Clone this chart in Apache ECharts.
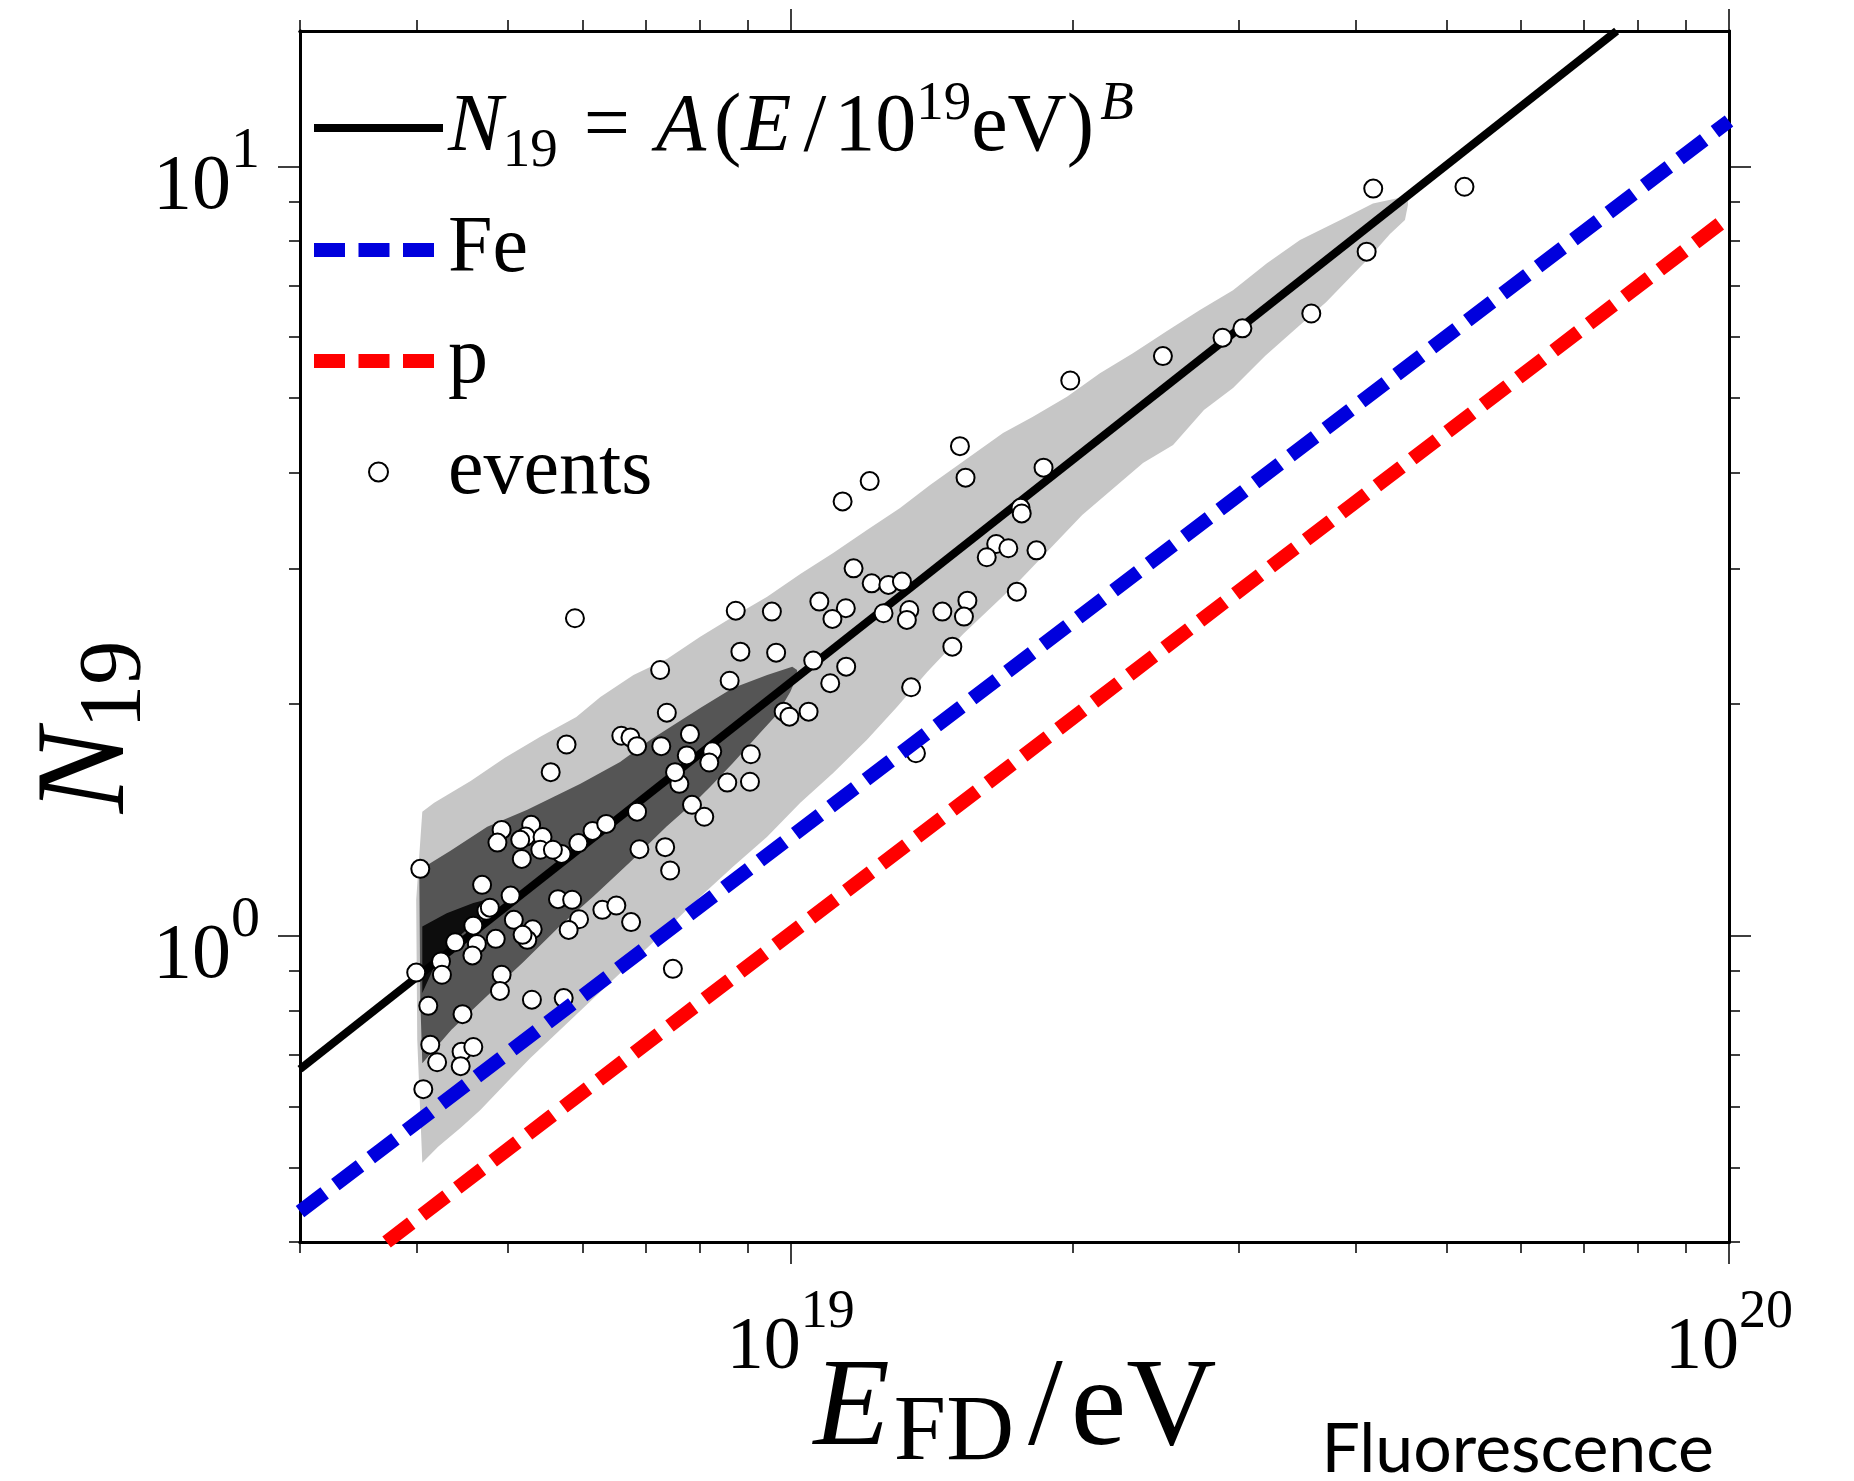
<!DOCTYPE html>
<html>
<head>
<meta charset="utf-8">
<script src="https://cdn.jsdelivr.net/npm/echarts@6/dist/echarts.min.js"></script>
<style>
  html, body { margin: 0; padding: 0; background: #ffffff; }
  #chart { width: 1854px; height: 1481px; }
</style>
</head>
<body>
<div id="chart"></div>
<script>
// ---- Measured events: FD energy (EeV) and N19 ----
const eventEnergyEeV = [
  4.03, 4.92, 4.87, 5.29, 5.22, 5.44, 5.41, 5.17, 5.70, 5.94, 6.15, 6.36, 6.86, 7.61, 6.90, 7.35, 7.44, 7.85, 8.09,
  4.69, 5.03, 4.74, 4.78, 5.07, 4.59, 4.85, 5.31, 5.24, 5.18, 4.39, 4.63, 4.58, 4.24, 4.25, 3.99,
  5.65, 5.85, 5.95, 5.80, 6.30, 6.52, 6.76, 4.92, 4.90, 7.49, 4.11, 4.47, 5.30, 5.73,
  4.13, 4.20, 4.46, 4.59, 4.45, 4.06, 5.15, 5.58,
  5.89, 8.74, 9.55, 8.84, 9.65, 7.26, 8.61, 10.57, 11.46, 11.02, 13.44, 7.38, 9.83, 9.97, 10.45,
  6.60, 6.75, 7.81, 11.67, 12.20, 12.71, 13.14, 10.73, 11.45, 11.08, 12.56, 13.38, 13.30, 14.51,
  15.43, 15.30, 14.87, 16.56, 17.06, 16.18, 17.42, 7.75, 8.25, 8.19, 9.07, 7.53, 8.56, 9.05, 13.60,
  6.86, 7.28, 5.77, 5.55,
  41.77, 52.25, 41.10, 35.88, 28.86, 30.30, 24.93, 19.86, 15.15, 15.36, 18.60, 12.14, 11.36, 17.58, 17.63, 18.28
];
const eventN19 = [
  1.222, 1.373, 1.322, 1.394, 1.346, 1.344, 1.294, 1.259, 1.278, 1.320, 1.369, 1.398, 1.450, 1.576, 1.296, 1.304, 1.216, 1.480, 1.428,
  1.165, 1.128, 1.078, 1.088, 1.049, 1.031, 0.991, 1.020, 0.988, 1.003, 0.981, 0.976, 0.943, 0.926, 0.890, 0.896,
  1.116, 1.114, 1.051, 1.018, 1.081, 1.095, 1.042, 0.890, 0.848, 0.906, 0.811, 0.791, 0.826, 0.830,
  0.722, 0.685, 0.707, 0.717, 0.677, 0.632, 1.333, 1.294,
  2.587, 2.646, 2.639, 2.341, 2.334, 2.216, 2.146, 2.279, 2.238, 2.130, 2.104, 1.950, 1.956, 1.927, 1.956,
  1.820, 1.811, 1.829, 3.004, 2.872, 2.858, 2.887, 2.719, 2.666, 2.582, 2.626, 2.652, 2.574, 2.639,
  2.727, 2.600, 2.376, 3.231, 3.190, 3.105, 2.801, 1.716, 1.737, 1.680, 1.722, 1.632, 1.582, 1.586, 1.727,
  1.764, 1.764, 1.773, 1.632,
  9.36, 9.41, 7.75, 6.44, 5.99, 6.16, 5.67, 5.27, 4.33, 3.94, 4.06, 3.90, 3.67, 3.60, 3.54, 3.17
];

// ---- Fitted power law and composition predictions (end points, EeV / N19) ----
const fitEnergyEeV = [3.0, 75.9];
const fitN19 = [0.671, 15.0];
const ironEnergyEeV = [3.0, 100];
const ironN19 = [0.438, 11.46];
const protonEnergyEeV = [3.71, 100];
const protonN19 = [0.40, 8.60];

// ---- Simulated event density contours (outline vertices, EeV / N19) ----
const outerBandEnergyEeV = [
  4.05, 4.17, 4.56, 4.96, 5.41, 5.91, 6.27, 6.80, 7.39, 8.01, 8.68, 9.44, 10.24, 11.10, 12.06, 13.08, 14.08,
  16.84, 18.12, 19.70, 21.36, 23.16, 25.18, 27.30, 29.61, 32.18, 34.90, 38.78, 41.74, 45.48,
  45.48, 45.15, 43.52, 41.23, 37.20, 34.90, 32.03, 29.61, 27.57, 25.56, 23.74, 20.45, 17.56, 15.27, 13.98,
  12.98, 12.06, 11.10, 10.24, 9.44, 8.68, 8.01, 7.09, 6.27, 5.54, 5.28, 4.99, 4.67, 4.45, 4.21, 4.05,
  4.00, 3.99
];
const outerBandN19 = [
  1.450, 1.489, 1.590, 1.704, 1.815, 1.925, 2.044, 2.183, 2.291, 2.447, 2.598, 2.758, 2.953, 3.145, 3.369, 3.598, 3.855,
  4.504, 4.729, 5.020, 5.384, 5.716, 6.111, 6.506, 6.906, 7.488, 8.023, 8.555, 8.954, 9.152,
  8.908, 8.518, 8.168, 7.579, 6.663, 6.222, 5.671, 5.153, 4.825, 4.345, 4.117, 3.523, 2.901, 2.468, 2.203,
  1.984, 1.799, 1.628, 1.489, 1.345, 1.230, 1.124, 0.974, 0.846, 0.733, 0.694, 0.646, 0.594, 0.563, 0.532, 0.507,
  0.733, 1.114
];
const middleBandEnergyEeV = [
  4.02, 4.34, 4.75, 5.24, 5.97, 6.58, 7.09, 8.01, 8.68, 9.44, 10.04, 10.16, 10.14,
  9.99, 9.68, 9.28, 8.68, 8.21, 8.01, 7.37, 6.75, 6.17, 5.67, 5.19, 4.75, 4.35, 4.05, 4.03
];
const middleBandN19 = [
  1.218, 1.290, 1.386, 1.458, 1.576, 1.683, 1.799, 1.978, 2.100, 2.183, 2.238, 2.216, 2.164,
  2.075, 1.943, 1.836, 1.678, 1.562, 1.516, 1.386, 1.248, 1.127, 1.028, 0.925, 0.836, 0.755, 0.683, 0.826
];
const innerBandEnergyEeV = [4.05, 4.30, 4.59, 4.78, 4.87, 4.67, 4.39, 4.18, 4.05];
const innerBandN19 = [1.028, 1.070, 1.103, 1.117, 1.104, 1.056, 0.988, 0.917, 0.843];

// ---- Axis ranges and tick positions ----
const energyRangeEeV = [3, 100];
const n19Range = [0.4, 15];
const energyMajorTicksEeV = [10, 100];
const energyMinorTicksEeV = [3, 4, 5, 6, 7, 8, 9, 20, 30, 40, 50, 60, 70, 80, 90];
const n19MajorTicks = [1, 10];
const n19MinorTicks = [0.4, 0.5, 0.6, 0.7, 0.8, 0.9, 2, 3, 4, 5, 6, 7, 8, 9];

// Both axes are logarithmic: positions are log10(E/eV) and log10(N19)
const lx = eev => Math.log10(eev) + 18;
const ly = n => Math.log10(n);
const pairs = (es, ns) => es.map((e, i) => [lx(e), ly(ns[i])]);

const serif = "'Liberation Serif', 'DejaVu Serif', serif";
const powerLabel = v => '{b|10}{s|' + Math.round(v) + '}';

const xBase = {
  type: 'value', min: lx(energyRangeEeV[0]), max: lx(energyRangeEeV[1]),
  splitLine: { show: false },
  axisLine: { show: true, onZero: false, lineStyle: { color: '#000', width: 3 } }
};
const yBase = {
  type: 'value', min: ly(n19Range[0]), max: ly(n19Range[1]),
  splitLine: { show: false },
  axisLine: { show: true, onZero: false, lineStyle: { color: '#000', width: 3 } }
};
const majorTick = vals => ({ show: true, length: 22, customValues: vals, lineStyle: { color: '#000', width: 1.5 } });
const minorTick = vals => ({ show: true, length: 11, customValues: vals, lineStyle: { color: '#000', width: 1.5 } });

const xMajor = energyMajorTicksEeV.map(lx);
const xMinor = energyMinorTicksEeV.map(lx);
const yMajor = n19MajorTicks.map(ly);
const yMinor = n19MinorTicks.map(ly);

function bandSeries(energies, n19s, color, z) {
  return {
    type: 'custom', xAxisIndex: 0, yAxisIndex: 0, z: z, silent: true, clip: true,
    data: [[lx(energies[0]), ly(n19s[0])]],
    renderItem: function (params, api) {
      const points = energies.map((e, i) => api.coord([lx(e), ly(n19s[i])]));
      return { type: 'polygon', shape: { points: points }, style: { fill: color } };
    }
  };
}

const fitName = 'N19 fit';
const formula = '{i|N}{sub|19}{eq|=}{ia|A}{r|(}{ie|E}{sl|/}{r|10}{sup|19}{r|eV}{rp|)}{supi|B}';
const hidden = { color: 'rgba(0,0,0,0)', borderColor: 'rgba(0,0,0,0)', borderWidth: 0 };
const mainTok = { fontFamily: serif, fontSize: 82, lineHeight: 102, color: '#000' };
const smallTok = { fontFamily: serif, fontSize: 55, lineHeight: 58, color: '#000' };

const chart = echarts.init(document.getElementById('chart'), null, { renderer: 'canvas' });
chart.setOption({
  animation: false,
  backgroundColor: '#ffffff',
  grid: { left: 300, right: 125, top: 31, bottom: 239, containLabel: false },
  xAxis: [
    Object.assign({}, xBase, {
      position: 'bottom', axisTick: majorTick(xMajor),
      axisLabel: {
        show: true, customValues: xMajor, margin: 44, formatter: powerLabel, color: '#000',
        rich: {
          b: { fontFamily: serif, fontSize: 74, lineHeight: 100, verticalAlign: 'bottom', color: '#000' },
          s: { fontFamily: serif, fontSize: 54, lineHeight: 56, verticalAlign: 'top', color: '#000' }
        }
      }
    }),
    Object.assign({}, xBase, { position: 'bottom', axisTick: minorTick(xMinor), axisLabel: { show: false } }),
    Object.assign({}, xBase, { position: 'top', axisTick: majorTick(xMajor), axisLabel: { show: false } }),
    Object.assign({}, xBase, { position: 'top', axisTick: minorTick(xMinor), axisLabel: { show: false } })
  ],
  yAxis: [
    Object.assign({}, yBase, {
      position: 'left', axisTick: majorTick(yMajor),
      axisLabel: {
        show: true, customValues: yMajor, margin: 40, formatter: powerLabel, color: '#000',
        padding: [16, 0, 0, 0],
        rich: {
          b: { fontFamily: serif, fontSize: 78, lineHeight: 104, verticalAlign: 'bottom', color: '#000' },
          s: { fontFamily: serif, fontSize: 58, lineHeight: 58, verticalAlign: 'top', color: '#000' }
        }
      }
    }),
    Object.assign({}, yBase, { position: 'left', axisTick: minorTick(yMinor), axisLabel: { show: false } }),
    Object.assign({}, yBase, { position: 'right', axisTick: majorTick(yMajor), axisLabel: { show: false } }),
    Object.assign({}, yBase, { position: 'right', axisTick: minorTick(yMinor), axisLabel: { show: false } })
  ],
  legend: {
    orient: 'vertical', left: 307, top: 77, padding: 0, itemGap: 31,
    itemWidth: 129, itemHeight: 19, selectedMode: false,
    data: [
      { name: fitName, itemStyle: hidden },
      { name: 'Fe', itemStyle: hidden },
      { name: 'p', itemStyle: hidden },
      { name: 'events', icon: 'circle', itemStyle: { color: '#fff', borderColor: '#000', borderWidth: 2 } }
    ],
    lineStyle: { width: 'inherit', type: 'inherit' },
    formatter: name => (name === fitName ? formula : name),
    textStyle: {
      fontFamily: serif, fontSize: 80, lineHeight: 80, color: '#000',
      rich: {
        i: Object.assign({}, mainTok, { fontStyle: 'italic' }),
        ia: Object.assign({}, mainTok, { fontStyle: 'italic', padding: [0, 8, 0, 0] }),
        ie: Object.assign({}, mainTok, { fontStyle: 'italic', padding: [0, 4, 0, 0] }),
        r: mainTok,
        rp: Object.assign({}, mainTok, { padding: [0, 6, 0, 0] }),
        eq: Object.assign({}, mainTok, { padding: [0, 26, 0, 26] }),
        sl: Object.assign({}, mainTok, { padding: [0, 8, 0, 8] }),
        sub: Object.assign({}, smallTok, { verticalAlign: 'bottom' }),
        sup: Object.assign({}, smallTok, { verticalAlign: 'top' }),
        supi: Object.assign({}, smallTok, { fontStyle: 'italic', verticalAlign: 'top' })
      }
    }
  },
  graphic: [
    {
      type: 'text', x: 1015, y: 1341, silent: true,
      style: {
        text: '{i|E}{sub|FD}{sl|/}{r|eV}', align: 'center', verticalAlign: 'top', fill: '#000',
        rich: {
          i: { fontFamily: serif, fontStyle: 'italic', fontSize: 125, lineHeight: 140, padding: [0, 4, 0, 0], fill: '#000' },
          r: { fontFamily: serif, fontSize: 125, lineHeight: 140, fill: '#000' },
          sl: { fontFamily: serif, fontSize: 125, lineHeight: 140, padding: [0, 8, 0, 8], fill: '#000' },
          sub: { fontFamily: serif, fontSize: 94, lineHeight: 75, verticalAlign: 'bottom', padding: [0, 6, 0, 0], fill: '#000' }
        }
      }
    },
    {
      type: 'text', x: 90, y: 727, rotation: Math.PI / 2, silent: true,
      style: {
        text: '{i|N}{sub|19}', align: 'center', verticalAlign: 'middle', fill: '#000',
        rich: {
          i: { fontFamily: serif, fontStyle: 'italic', fontSize: 127, lineHeight: 140, fill: '#000' },
          sub: { fontFamily: serif, fontSize: 88, lineHeight: 70, verticalAlign: 'bottom', fill: '#000' }
        }
      }
    },
    {
      type: 'text', x: 1714, y: 1450, silent: true,
      style: {
        text: 'Fluorescence', align: 'right', verticalAlign: 'middle', fill: '#000',
        fontFamily: "Lato, 'Open Sans', sans-serif", fontSize: 68
      }
    }
  ],
  series: [
    bandSeries(outerBandEnergyEeV, outerBandN19, '#c6c6c6', 1),
    bandSeries(middleBandEnergyEeV, middleBandN19, '#555555', 1),
    bandSeries(innerBandEnergyEeV, innerBandN19, '#0d0d0d', 1),
    {
      name: fitName, type: 'line', xAxisIndex: 0, yAxisIndex: 0, z: 2,
      data: pairs(fitEnergyEeV, fitN19), symbol: 'none', silent: true,
      lineStyle: { color: '#000', width: 8 }, itemStyle: { color: '#000' }
    },
    {
      name: 'events', type: 'scatter', xAxisIndex: 0, yAxisIndex: 0, z: 3,
      data: pairs(eventEnergyEeV, eventN19), symbol: 'circle', symbolSize: 18, silent: true,
      itemStyle: { color: '#ffffff', borderColor: '#000000', borderWidth: 2, opacity: 1 }
    },
    {
      name: 'Fe', type: 'line', xAxisIndex: 0, yAxisIndex: 0, z: 4,
      data: pairs(ironEnergyEeV, ironN19), symbol: 'none', silent: true,
      lineStyle: { color: '#0000dd', width: 14, type: [31, 13.5], cap: 'butt' }, itemStyle: { color: '#0000dd' }
    },
    {
      name: 'p', type: 'line', xAxisIndex: 0, yAxisIndex: 0, z: 4,
      data: pairs(protonEnergyEeV, protonN19), symbol: 'none', silent: true,
      lineStyle: { color: '#ff0000', width: 14, type: [31, 13.5], cap: 'butt' }, itemStyle: { color: '#ff0000' }
    }
  ]
});
</script>
</body>
</html>
